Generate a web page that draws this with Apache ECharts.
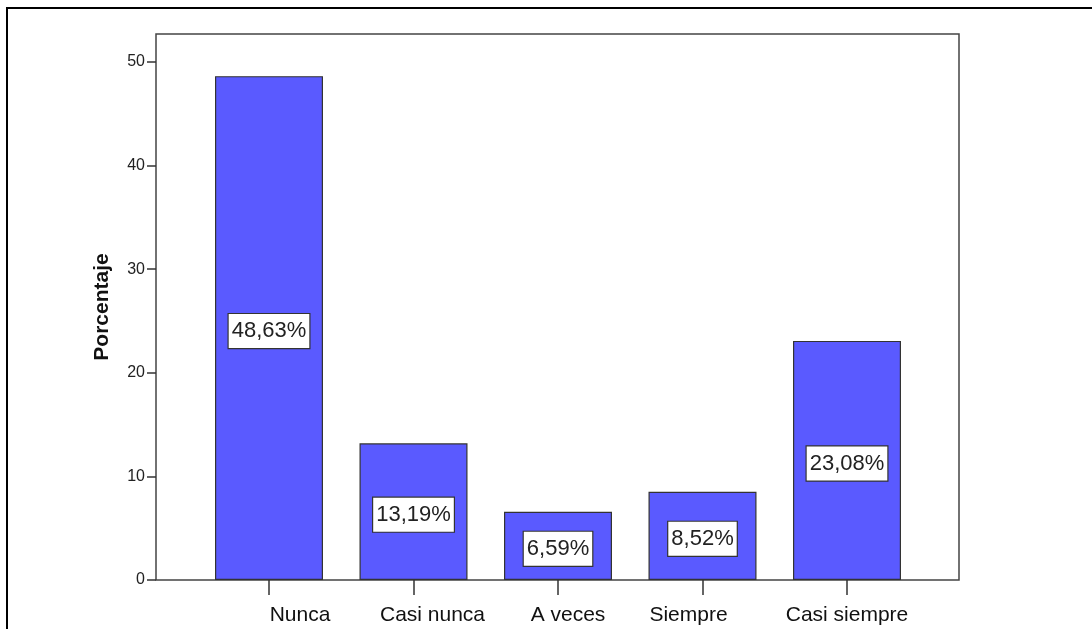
<!DOCTYPE html>
<html>
<head>
<meta charset="utf-8">
<script src="https://cdn.jsdelivr.net/npm/echarts@6/dist/echarts.min.js"></script>
<style>
  html, body { margin: 0; padding: 0; background: #fff; }
  #chart { width: 1092px; height: 629px; }
</style>
</head>
<body>
<div id="chart"></div>
<script>
// Frequency of responses, in percent
const categories = ['Nunca', 'Casi nunca', 'A veces', 'Siempre', 'Casi siempre'];
const percentages = [48.63, 13.19, 6.59, 8.52, 23.08];
const yTicks = [0, 10, 20, 30, 40, 50];
// horizontal nudge of each category caption
const labelShift = [31, 19, 10, -14, 0];

const FONT = '"Liberation Sans", Arial, sans-serif';
const Y_MAX = 52.7;

const chart = echarts.init(document.getElementById('chart'), null, { renderer: 'canvas' });

const xData = categories.map((c, i) => {
  const s = labelShift[i];
  return {
    value: c,
    textStyle: { padding: s >= 0 ? [0, 0, 0, 2 * s] : [0, -2 * s, 0, 0] }
  };
});

chart.setOption({
  animation: false,
  backgroundColor: '#ffffff',
  graphic: [{
    type: 'rect',
    shape: { x: 7, y: 8, width: 1200, height: 800 },
    style: { fill: 'none', stroke: '#000', lineWidth: 2 },
    silent: true
  }],
  grid: [
    // plot frame with the value axis
    { left: 156, right: 133, top: 34, bottom: 49, show: true,
      borderColor: '#444', borderWidth: 1.5, backgroundColor: 'transparent' },
    // bar area
    { left: 196.75, width: 722.5, top: 34, bottom: 49 }
  ],
  xAxis: [
    { gridIndex: 0, type: 'value', show: false, min: 0, max: 1 },
    { gridIndex: 1, type: 'category', data: xData,
      axisLine: { show: false },
      axisTick: { show: true, alignWithLabel: true, length: 15,
                  lineStyle: { color: '#333', width: 1.5 } },
      axisLabel: { interval: 0, margin: 25, fontFamily: FONT, fontSize: 21, color: '#111' } }
  ],
  yAxis: [
    { gridIndex: 0, type: 'value', min: 0, max: Y_MAX, interval: 10,
      name: 'Porcentaje', nameLocation: 'middle', nameGap: 43,
      nameTextStyle: { fontFamily: FONT, fontWeight: 'bold', fontSize: 21, color: '#111' },
      axisLine: { show: false },
      axisTick: { show: true, length: 9, customValues: yTicks,
                  lineStyle: { color: '#333', width: 1.5 } },
      axisLabel: { margin: 11, fontFamily: FONT, fontSize: 16, color: '#222',
                   customValues: yTicks },
      splitLine: { show: false } },
    { gridIndex: 1, type: 'value', min: 0, max: Y_MAX, show: false }
  ],
  series: [{
    type: 'bar',
    xAxisIndex: 1,
    yAxisIndex: 1,
    data: percentages,
    barWidth: 108,
    itemStyle: { color: '#5a5aff', borderColor: '#333', borderWidth: 1.2 },
    label: {
      show: true,
      position: 'inside',
      offset: [0, 3],
      formatter: p => p.value.toFixed(2).replace('.', ',') + '%',
      fontFamily: FONT,
      fontSize: 22,
      color: '#222',
      backgroundColor: '#ffffff',
      borderColor: '#333',
      borderWidth: 1.2,
      padding: [7, 3, 5, 3]
    }
  }]
});
</script>
</body>
</html>
